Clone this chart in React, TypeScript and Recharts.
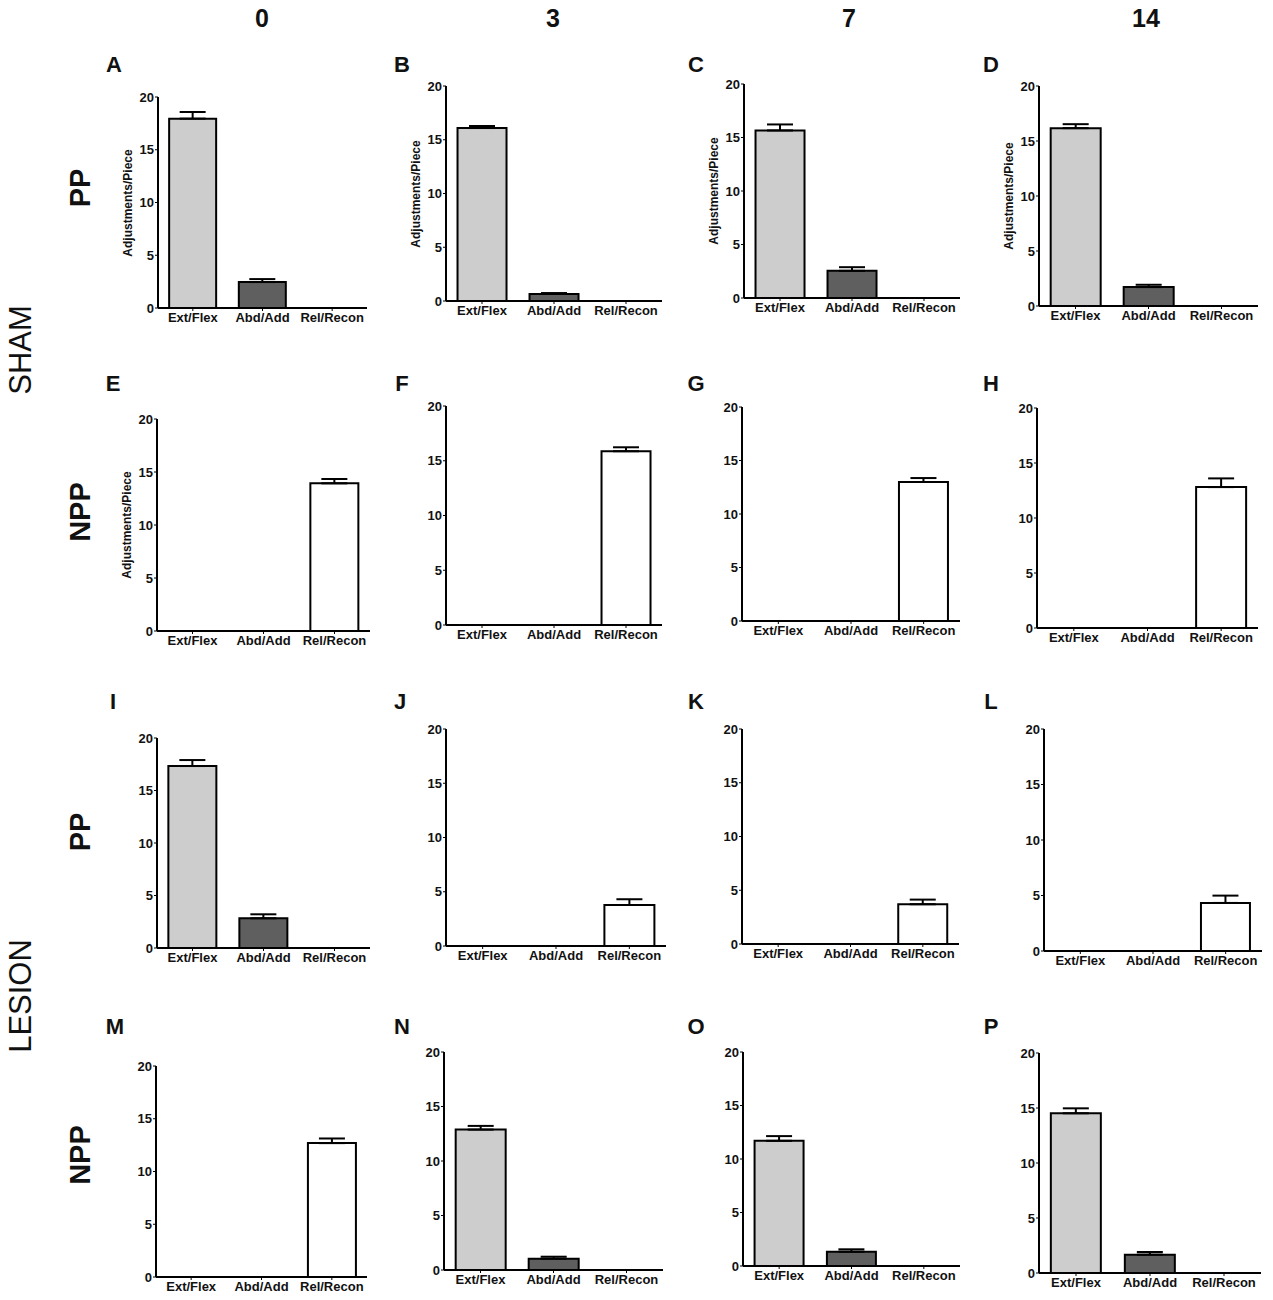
import React from "react"
import { BarChart, Bar, XAxis, YAxis, Cell, ErrorBar } from "recharts"

const categories = ["Ext/Flex", "Abd/Add", "Rel/Recon"]
const yTicks = [0, 5, 10, 15, 20]
const days = ["0", "3", "7", "14"]
const rowLabels = ["PP", "NPP", "PP", "NPP"]
const groupLabels = ["SHAM", "LESION"]
const panelLetters = ["A", "B", "C", "D", "E", "F", "G", "H", "I", "J", "K", "L", "M", "N", "O", "P"]

// mean adjustments/piece and upper SEM per panel
const meansA = [17.95, 2.46, 0]
const errsA = [0.63, 0.28, 0]
const meansB = [16.09, 0.65, 0]
const errsB = [0.19, 0.09, 0]
const meansC = [15.66, 2.54, 0]
const errsC = [0.56, 0.34, 0]
const meansD = [16.17, 1.72, 0]
const errsD = [0.36, 0.21, 0]
const meansE = [0, 0, 13.93]
const errsE = [0, 0, 0.41]
const meansF = [0, 0, 15.87]
const errsF = [0, 0, 0.36]
const meansG = [0, 0, 12.99]
const errsG = [0, 0, 0.37]
const meansH = [0, 0, 12.81]
const errsH = [0, 0, 0.79]
const meansI = [17.33, 2.83, 0]
const errsI = [0.57, 0.38, 0]
const meansJ = [0, 0, 3.78]
const errsJ = [0, 0, 0.53]
const meansK = [0, 0, 3.7]
const errsK = [0, 0, 0.43]
const meansL = [0, 0, 4.33]
const errsL = [0, 0, 0.66]
const meansM = [0, 0, 12.69]
const errsM = [0, 0, 0.44]
const meansN = [12.88, 1.04, 0]
const errsN = [0.34, 0.18, 0]
const meansO = [11.7, 1.34, 0]
const errsO = [0.44, 0.22, 0]
const meansP = [14.52, 1.67, 0]
const errsP = [0.45, 0.24, 0]

const allMeans = [meansA, meansB, meansC, meansD, meansE, meansF, meansG, meansH, meansI, meansJ, meansK, meansL, meansM, meansN, meansO, meansP]
const allErrs = [errsA, errsB, errsC, errsD, errsE, errsF, errsG, errsH, errsI, errsJ, errsK, errsL, errsM, errsN, errsO, errsP]

// layout: y-axis x, y of 20, y of 0, right end of x-axis
const frames = [
  [158, 97, 308, 367], [446, 86, 301, 662], [744, 84, 298, 960], [1039, 86, 306, 1258],
  [157, 419, 631, 370], [446, 406, 625, 662], [742, 407, 621, 960], [1037, 408, 628, 1258],
  [157, 738, 948, 370], [446, 729, 946, 666], [742, 729, 944, 959], [1044, 729, 951, 1262],
  [156, 1066, 1277, 367], [444, 1052, 1270, 663], [743, 1052, 1266, 960], [1039, 1053, 1273, 1261],
]
const letterPos = [
  [114, 65], [402, 65], [696, 65], [991, 65],
  [113, 384], [402, 384], [696, 384], [991, 384],
  [113, 702], [400, 702], [696, 702], [991, 702],
  [115, 1027], [402, 1027], [696, 1027], [991, 1027],
]
const barColors = ["#cdcdcd", "#5f5f5f", "#ffffff"]
const font = "'Liberation Sans', Arial, sans-serif"

function Panel({ idx }: { idx: number }) {
  const [ax, top, zero, right] = frames[idx]
  const data = categories.map((name, i) => ({
    name,
    mean: allMeans[idx][i],
    err: [0, allErrs[idx][i]],
  }))
  const w = right - ax + 44
  const h = zero - top + 32
  return (
    <div style={{ position: "absolute", left: ax - 40, top: top - 8 }}>
      <BarChart width={w} height={h} data={data} margin={{ top: 8, right: 4, left: 0, bottom: 0 }} barCategoryGap="16%">
        <XAxis
          dataKey="name"
          height={24}
          interval={0}
          axisLine={{ stroke: "#000", strokeWidth: 2 }}
          tickLine={{ stroke: "#000" }}
          tickSize={3}
          tick={{ fontSize: 13, fontWeight: 700, fill: "#111", fontFamily: font }}
        />
        <YAxis
          width={40}
          domain={[0, 20]}
          ticks={yTicks}
          interval={0}
          axisLine={{ stroke: "#000", strokeWidth: 2 }}
          tickLine={{ stroke: "#000" }}
          tickSize={3}
          tickMargin={1}
          tick={{ fontSize: 13, fontWeight: 700, fill: "#111", fontFamily: font }}
        />
        <Bar dataKey="mean" stroke="#000" strokeWidth={2} isAnimationActive={false}>
          {data.map((d, i) => (
            <Cell key={d.name} fill={barColors[i]} />
          ))}
          <ErrorBar dataKey="err" width={13} stroke="#000" strokeWidth={2} direction="y" isAnimationActive={false} />
        </Bar>
      </BarChart>
      {idx < 5 && (
        <div
          style={{
            position: "absolute",
            left: 10,
            top: 8 + (zero - top) / 2,
            transform: "translate(-50%, -50%) rotate(-90deg)",
            whiteSpace: "nowrap",
            fontFamily: font,
            fontWeight: 700,
            fontSize: 12,
            color: "#111",
          }}
        >
          Adjustments/Piece
        </div>
      )}
    </div>
  )
}

const centered = (x: number, y: number, extra: React.CSSProperties): React.CSSProperties => ({
  position: "absolute",
  left: x,
  top: y,
  transform: "translate(-50%, -50%)",
  whiteSpace: "nowrap",
  fontFamily: font,
  color: "#111",
  lineHeight: 1,
  ...extra,
})

export default function App() {
  const dayX = [262, 553, 849, 1146]
  const rowY = [188, 512, 832, 1155]
  const groupY = [350, 996]
  return (
    <div style={{ position: "absolute", left: 0, top: 0, width: 1273, height: 1300, background: "#fff", overflow: "hidden" }}>
      {days.map((d, i) => (
        <div key={"d" + i} style={centered(dayX[i], 18, { fontSize: 25, fontWeight: 700 })}>
          {d}
        </div>
      ))}
      {rowLabels.map((r, i) => (
        <div key={"r" + i} style={{ ...centered(80, rowY[i], { fontSize: 29, fontWeight: 700 }), transform: "translate(-50%, -50%) rotate(-90deg)" }}>
          {r}
        </div>
      ))}
      {groupLabels.map((g, i) => (
        <div key={"g" + i} style={{ ...centered(20, groupY[i], { fontSize: 31, fontWeight: 400 }), transform: "translate(-50%, -50%) rotate(-90deg)" }}>
          {g}
        </div>
      ))}
      {panelLetters.map((l, i) => (
        <div key={"l" + i} style={centered(letterPos[i][0], letterPos[i][1], { fontSize: 22, fontWeight: 700 })}>
          {l}
        </div>
      ))}
      {frames.map((_, i) => (
        <Panel key={i} idx={i} />
      ))}
    </div>
  )
}
